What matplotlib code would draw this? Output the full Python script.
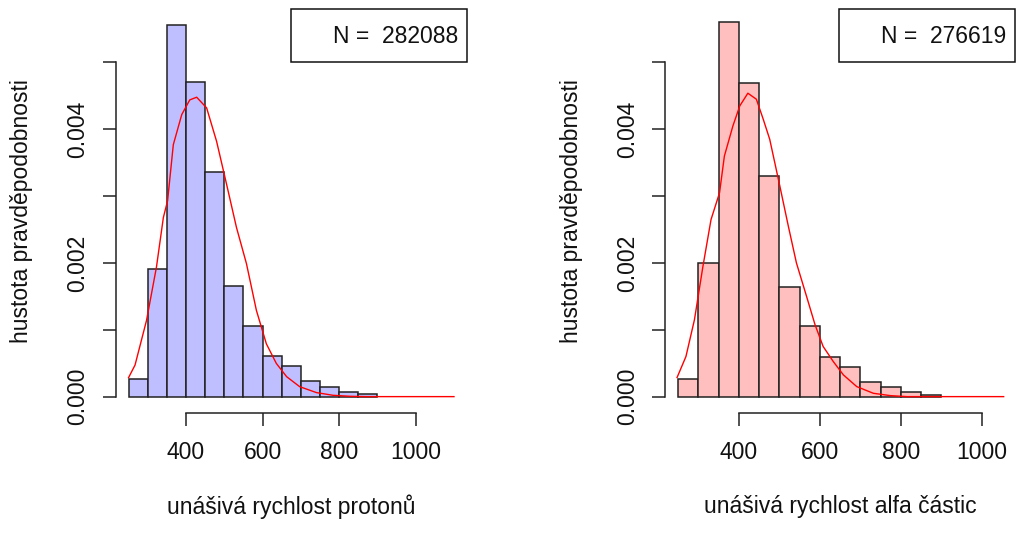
import matplotlib
matplotlib.use("Agg")
import matplotlib.pyplot as plt
from matplotlib.patches import Rectangle

plt.rcParams['font.family'] = ['Liberation Sans', 'DejaVu Sans']

# histogram bins (km/s) and densities
bin_edges = [250, 300, 350, 400, 450, 500, 550, 600, 650, 700, 750, 800, 850, 900]
proton_density = [0.000258, 0.001912, 0.005561, 0.004712, 0.003361, 0.001648, 0.001063,
                  0.000606, 0.000457, 0.000233, 0.000144, 0.000065, 0.000040]
alpha_density = [0.000260, 0.002005, 0.005600, 0.004700, 0.003300, 0.001640, 0.001050,
                 0.000590, 0.000445, 0.000215, 0.000150, 0.000070, 0.000025]

# red density curves
proton_curve_x = [250, 267, 297, 323, 341, 352, 367, 389, 410, 428, 454, 480, 506, 532,
                  558, 584, 610, 636, 663, 697, 741, 784, 828, 871, 1100]
proton_curve_y = [0.000283, 0.000472, 0.00114, 0.00194, 0.00268, 0.00293, 0.00377, 0.00422,
                  0.00444, 0.00448, 0.00432, 0.00382, 0.00318, 0.00253, 0.00199, 0.00129,
                  0.00079, 0.000497, 0.000298, 0.000149, 0.00006, 0.00002, 0.000005, 0.0, 0.0]
alpha_curve_x = [247, 269, 290, 311, 331, 352, 364, 385, 402, 422, 443, 460, 476, 501,
                 522, 542, 567, 588, 608, 633, 658, 691, 732, 774, 815, 1054]
alpha_curve_y = [0.000285, 0.0006, 0.00115, 0.00195, 0.00265, 0.00305, 0.0036, 0.00405,
                 0.00435, 0.00454, 0.00445, 0.00415, 0.00385, 0.00315, 0.00255, 0.002,
                 0.0015, 0.001075, 0.00075, 0.000525, 0.000325, 0.00015, 0.00005, 0.000015,
                 0.0, 0.0]

counts = [282088, 276619]
xlabels = ['unášivá rychlost protonů', 'unášivá rychlost alfa částic']
ylabel = 'hustota pravděpodobnosti'
fills = ['#bfbfff', '#ffbfbf']

W, H = 1016, 540
fig = plt.figure(figsize=(W / 100, H / 100), dpi=100)

# axes boxes in pixels: left, right, top, bottom
boxes = [(115.5, 467, 9, 413), (665.3, 1015, 9, 413)]
xlims = [(216, 1134), (218, 1082)]
ylim = (-0.000245, 0.0058)

panels = [
    (proton_density, proton_curve_x, proton_curve_y),
    (alpha_density, alpha_curve_x, alpha_curve_y),
]

fs = 16.5
for i, (dens, cx, cy) in enumerate(panels):
    l, r, t, b = boxes[i]
    ax = fig.add_axes([l / W, 1 - b / H, (r - l) / W, (b - t) / H])
    ax.set_xlim(*xlims[i])
    ax.set_ylim(*ylim)

    ax.bar(bin_edges[:-1], dens, width=50, align='edge', color=fills[i],
           edgecolor='#222222', linewidth=1.1, zorder=2)
    ax.plot(cx, cy, color='red', lw=1.0, zorder=3)

    for s in ['top', 'right']:
        ax.spines[s].set_visible(False)
    ax.spines['left'].set_bounds(0, 0.005)
    ax.spines['bottom'].set_bounds(400, 1000)
    for s in ['left', 'bottom']:
        ax.spines[s].set_linewidth(1.1)
        ax.spines[s].set_color('#222222')

    ax.set_xticks([400, 600, 800, 1000])
    ax.set_yticks([0, 0.001, 0.002, 0.003, 0.004, 0.005])
    ax.set_yticklabels(['0.000', '', '0.002', '', '0.004', ''])
    ax.tick_params(axis='both', direction='out', length=9.4, width=1.1,
                   color='#222222', labelsize=fs, labelcolor='#111111')
    ax.tick_params(axis='x', pad=11)
    ax.tick_params(axis='y', pad=9.5)
    for lab in ax.get_yticklabels():
        lab.set_rotation(90)
        lab.set_va('center')

    # axis titles
    fig.text((l + 22 - 115.5) / W, 1 - 211 / H, ylabel, rotation=90,
             ha='center', va='center', fontsize=fs, color='#111111')
    fig.text((l + r) / 2 / W, 1 - 507 / H, xlabels[i],
             ha='center', va='center', fontsize=fs, color='#111111')

    # legend box
    lx0, lx1, ly0, ly1 = r - 175.7, r, 9.3, 62.3
    fig.patches.append(Rectangle((lx0 / W, 1 - ly1 / H), (lx1 - lx0) / W, (ly1 - ly0) / H,
                                 transform=fig.transFigure, fill=False,
                                 edgecolor='#111111', linewidth=1.1))
    fig.text((lx0 + 42) / W, 1 - 36.7 / H, 'N =  %d' % counts[i],
             ha='left', va='center', fontsize=fs, color='#111111')

fig.savefig('out.png', dpi=100)
